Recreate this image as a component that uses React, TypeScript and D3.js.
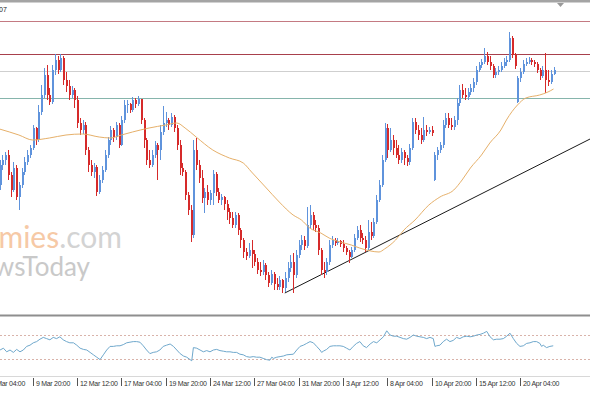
import React from 'react';
import * as d3 from 'd3';

const W = 590;
const H = 393;

// H4 candles, values in price points
const open = [135,155,160,165,145,130,152,123,135,148,158,165,172,192,180,208,225,245,225,218,250,260,250,262,240,234,225,230,220,197,190,195,170,155,148,153,128,140,150,165,180,190,183,195,175,200,215,216,210,220,216,221,200,180,160,155,165,175,170,188,197,200,195,203,192,175,152,148,125,110,85,170,155,142,122,128,120,127,146,128,120,123,116,108,102,95,105,90,80,68,64,70,66,58,50,48,55,45,37,46,36,33,40,32,42,52,58,45,65,75,80,74,95,105,95,92,70,50,48,58,75,80,77,79,76,72,68,63,70,82,90,82,80,72,88,84,98,120,135,160,192,170,180,172,165,160,168,162,158,172,198,190,185,180,190,188,190,140,165,170,175,195,202,195,193,200,217,230,225,223,228,232,238,250,255,258,264,258,254,245,248,250,254,258,260,282,265,218,242,248,256,258,260,258,256,250,244,250,240,238,246];
const close = [155,160,165,145,130,152,123,135,148,158,165,172,192,180,208,225,245,225,218,250,260,250,262,240,234,225,230,220,197,190,195,170,155,148,153,128,140,150,165,180,190,183,195,175,200,215,216,210,220,216,221,200,180,160,155,165,175,170,188,197,200,195,203,192,175,152,148,125,110,85,170,155,142,122,128,120,127,146,128,120,123,116,108,102,95,105,90,80,68,64,70,66,58,50,48,55,45,37,46,36,33,40,32,42,52,58,45,65,75,80,74,95,105,95,92,70,50,48,58,75,80,77,79,76,72,68,63,70,82,90,82,80,72,88,84,98,120,135,160,192,170,180,172,165,160,168,162,158,172,198,190,185,180,190,188,190,187,165,170,175,195,202,195,193,200,217,230,225,223,228,232,238,250,255,258,264,258,254,245,248,250,254,258,260,282,265,254,242,248,256,258,260,258,256,250,244,250,240,238,246,250];
const high = [160,165,168,170,148,158,155,138,152,163,170,175,195,193,215,235,252,255,232,255,266,264,266,264,248,240,234,232,224,202,200,198,173,160,157,155,145,154,170,183,194,192,198,197,204,220,220,217,223,222,224,221,202,182,170,170,179,177,195,214,208,202,207,205,195,180,157,150,128,115,180,182,160,150,132,135,130,150,148,132,126,124,120,112,108,108,107,92,82,72,77,80,70,62,58,60,57,48,50,48,42,44,41,48,58,65,67,70,80,85,84,113,115,108,100,95,72,58,62,80,84,82,82,80,80,74,70,73,86,94,95,87,84,100,98,102,125,140,165,197,196,192,185,180,175,172,170,165,176,202,202,195,192,203,195,193,194,168,173,178,200,207,207,202,204,222,235,236,232,232,236,242,254,258,261,272,268,264,256,252,254,258,262,264,288,284,267,244,252,260,262,263,262,260,258,252,254,267,250,250,253];
const low = [130,150,155,140,123,128,120,110,132,145,155,162,170,175,178,205,222,220,215,216,245,246,248,235,228,220,222,212,192,185,186,165,148,144,142,124,126,137,148,162,175,178,180,172,174,197,207,207,208,212,214,196,172,155,152,153,162,140,160,185,193,190,193,188,170,145,144,120,105,78,82,150,137,117,107,115,115,115,124,117,115,110,100,96,92,92,85,72,62,60,62,52,54,46,44,45,40,33,35,30,30,30,27,28,38,48,27,42,62,70,70,72,92,90,88,65,45,42,45,55,72,74,75,73,68,65,57,62,68,80,78,76,68,70,80,82,96,118,133,158,162,168,165,162,156,157,155,154,155,170,186,180,176,178,184,186,184,139,160,167,172,192,192,190,190,195,214,222,220,220,225,228,235,248,252,256,255,250,242,242,245,248,252,254,258,262,251,217,238,246,254,256,255,253,247,240,242,227,234,236,245];

// Moving average
const maBar = [0,7,12,18,24,30,36,40,44,48,54,60,64,67,71,77,83,88,91,96,101,106,109,112,116,119,123,127,130,134,137,139,143,146,150,155,159,164,167,170,174,177,181,183,187,190,195,198,200];
const maVal = [191,185,180,182,185,186,183,182,185,188,192,195,197,192,183,170,162,157,148,133,118,105,100,92,87,82,78,75,72,69,68,71,80,90,100,115,123,130,140,152,165,177,190,200,215,222,225,228,231];

// Horizontal levels
const levelVals = [299, 266, 249, 222];
const levelColors = ['#c47a82', '#a8404c', '#cfcfcf', '#86b5ac'];

// Trendline anchors (bar, price)
const trendBar = [103, 213.2];
const trendVal = [27, 181];

// Oscillator
const rsiBar = [0.2,1.4,2.6,3.8,5.0,6.2,7.4,8.6,9.8,11,12.2,13.4,14.6,15.8,17,18.2,19.4,20.6,21.8,23,24.2,25.4,26.7,27.9,29.1,30.3,31.5,32.7,33.9,35.1,36.3,37.5,38.7,39.9,41.1,42.3,43.5,44.7,45.9,47.1,48.3,49.5,50.7,51.9,53.1,54.3,55.5,56.7,57.9,59.1,60.3,61.6,62.8,64,65.2,66.4,67.6,68.8,69.4,70,71.2,72.4,73.6,74.8,76,77.2,78.4,79.6,80.8,82,83.2,84.4,85.6,86.8,88,89.2,90.4,91.6,92.8,94,95.2,96.4,97.6,98.3,98.9,100.1,101.3,102.5,103.7,106.1,107.3,108.5,109.7,110.9,112.1,113.3,114.5,115.7,116.3,116.9,118.1,119.3,120.5,121.7,122.9,124.1,125.3,126.5,127.7,128.9,130.1,131.3,132.5,133.8,135,136.2,137.4,138.6,139.8,141,142.2,143.4,144.6,145.8,147,148.2,149.4,150.6,151.8,153,154.2,155.4,156.6,157.2,157.8,159,160.2,161.4,162.6,163.8,165,166.2,167.4,168.7,169.9,171.1,172.3,173.5,174.7,175.9,177.1,178.3,179.5,180.7,181.9,183.1,184.3,185.5,186.7,187.9,189.1,190.3,191.5,192.7,193.9,195.1,195.7,196.3,197.5,198.7,199.9];
const rsiVal = [45,48,42,45,41,46,42,45,51,53,57,59,63,66,64,62,66,64,67,62,59,57,57,53,48,46,45,41,37,33,29,37,45,51,51,52,52,54,57,58,59,59,58,52,45,39,41,42,45,51,53,55,51,45,39,35,33,29,27,49,48,45,42,44,42,45,46,44,43,42,42,41,41,38,37,34,33,34,33,33,31,29,28,33,31,33,34,35,37,38,45,51,53,56,59,57,51,45,41,43,46,51,52,52,52,51,48,45,51,56,59,52,49,55,59,57,62,67,77,70,68,68,66,64,63,66,70,68,67,66,64,66,64,51,52,53,59,63,59,61,66,64,67,68,67,68,70,71,73,76,67,62,63,63,64,68,73,64,56,51,52,56,57,59,59,56,51,53,49,51,52];
const rsiLevels = [70, 30];

// Time axis
const tickBars = [-4, 12, 28, 44, 60, 76, 92, 108, 124, 140, 156, 172, 188];
const tickLabels = ['5 Mar 04:00', '9 Mar 20:00', '12 Mar 12:00', '17 Mar 04:00', '19 Mar 20:00', '24 Mar 12:00', '27 Mar 04:00', '31 Mar 20:00', '3 Apr 12:00', '8 Apr 04:00', '10 Apr 20:00', '15 Apr 12:00', '20 Apr 04:00'];

const UP = '#5f93dc';
const DOWN = '#d62a2a';

export default function App() {
  const x = d3.scaleLinear().domain([0, 200]).range([-0.5, 553.5]);
  const y = d3.scaleLinear().domain([5, 320]).range([315, 0]);
  const ry = d3.scaleLinear().domain([0, 100]).range([377, 317]);

  const maLine = d3
    .line<number>()
    .x((_, i) => x(maBar[i]))
    .y((d) => y(d))
    .curve(d3.curveMonotoneX)(maVal);

  const rsiLine = d3
    .line<number>()
    .x((_, i) => x(rsiBar[i]))
    .y((d) => ry(d))(rsiVal);

  const font = "'Liberation Sans', Arial, sans-serif";

  return (
    <svg
      width={W}
      height={H}
      viewBox={`0 0 ${W} ${H}`}
      style={{ position: 'absolute', left: 0, top: 0, background: '#fff' }}
    >
      <rect x={0} y={0} width={W} height={H} fill="#fff" />
      {/* top frame */}
      <rect x={0} y={0} width={W} height={2.5} fill="#a4a4a4" />
      <polygon points="557,3 564,3 560.5,7" fill="#9a9a9a" />
      <text x={-1} y={11.5} fontSize={7} fontFamily={font} fill="#222">07</text>

      {/* watermark */}
      <text x={122} y={248} textAnchor="end" fontSize={30} fontFamily="Lato, 'Open Sans', sans-serif">
        <tspan fill="#f6c9a6">economies</tspan>
        <tspan fill="#d3d3d3">.com</tspan>
      </text>
      <text x={90} y={276} textAnchor="end" fontSize={26} fontFamily="Lato, 'Open Sans', sans-serif" fill="#c9c9c9">
        FXNewsToday
      </text>

      {/* levels */}
      {levelVals.map((v, i) => (
        <line key={`lv${i}`} x1={0} x2={W} y1={Math.round(y(v)) + 0.5} y2={Math.round(y(v)) + 0.5} stroke={levelColors[i]} strokeWidth={1} />
      ))}

      {/* trendline */}
      <line x1={x(trendBar[0])} y1={y(trendVal[0])} x2={x(trendBar[1])} y2={y(trendVal[1])} stroke="#1a1a1a" strokeWidth={1} />

      {/* candles */}
      <g shapeRendering="crispEdges">
        {close.map((c, i) => {
          const o = open[i];
          const col = c > o ? UP : DOWN;
          const cx = Math.round(x(i));
          const top = y(Math.max(o, c));
          const bot = y(Math.min(o, c));
          return (
            <g key={i}>
              <rect x={cx} y={y(high[i])} width={1} height={Math.max(1, y(low[i]) - y(high[i]))} fill={col} />
              <rect x={cx} y={top} width={2} height={Math.max(1, bot - top)} fill={col} />
            </g>
          );
        })}
      </g>

      {/* moving average */}
      <path d={maLine || ''} fill="none" stroke="#e6b06a" strokeWidth={1} />

      {/* pane separator */}
      <rect x={0} y={314.5} width={W} height={2} fill="#8e8e8e" />

      {/* oscillator */}
      {rsiLevels.map((v, i) => (
        <line key={`rl${i}`} x1={0} x2={W} y1={Math.round(ry(v)) + 0.5} y2={Math.round(ry(v)) + 0.5} stroke="#d9b3aa" strokeDasharray="2,2" strokeWidth={1} />
      ))}
      <path d={rsiLine || ''} fill="none" stroke="#6fa8cc" strokeWidth={1} />
      <line x1={0} x2={W} y1={376.5} y2={376.5} stroke="#d8d8d8" strokeWidth={1} />

      {/* time axis */}
      {tickBars.map((b, i) => {
        const tx = Math.round(x(b)) + 0.5;
        return (
          <g key={`t${i}`}>
            <line x1={tx} x2={tx} y1={378} y2={386} stroke="#555" strokeWidth={1} />
            <text x={tx + 2.5} y={385.5} fontSize={7} letterSpacing={-0.3} fontFamily={font} fill="#333">
              {tickLabels[i]}
            </text>
          </g>
        );
      })}
    </svg>
  );
}
